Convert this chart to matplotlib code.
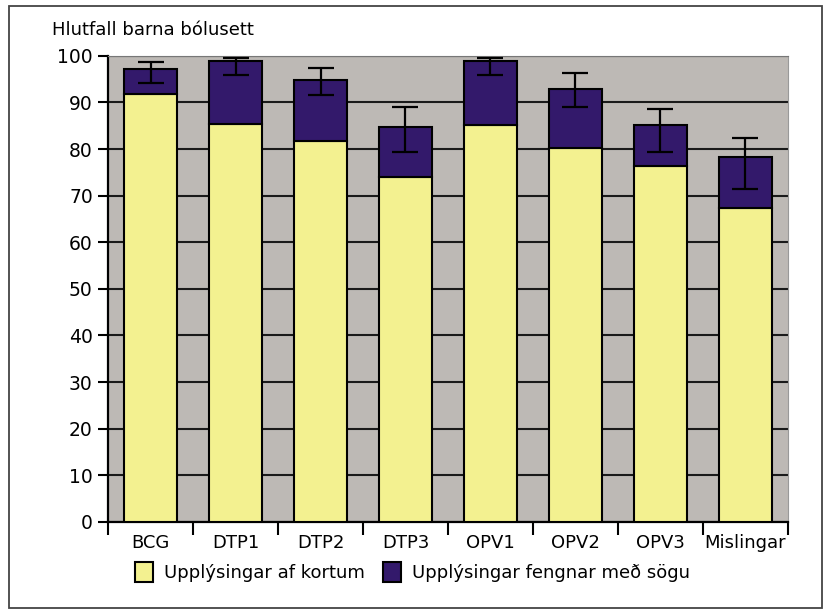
import matplotlib.pyplot as plt
import numpy as np
from matplotlib.patches import Rectangle

# data
categories = ["BCG", "DTP1", "DTP2", "DTP3", "OPV1", "OPV2", "OPV3", "Mislingar"]
kort = np.array([91.8, 85.4, 81.8, 74.1, 85.2, 80.2, 76.4, 67.4])     # Upplýsingar af kortum
total = np.array([97.2, 98.8, 94.9, 84.8, 98.8, 92.9, 85.1, 78.2])    # kort + saga
err_low = np.array([94.2, 95.8, 91.6, 79.4, 95.8, 89.0, 79.4, 71.4])
err_high = np.array([98.7, 99.6, 97.4, 89.0, 99.6, 96.4, 88.6, 82.4])
saga = total - kort

yellow = "#F3F190"
purple = "#33196B"

fig = plt.figure(figsize=(8.25, 6.14), dpi=100)
ax = fig.add_axes([0.131, 0.150, 0.824, 0.759])
ax.set_facecolor("#BDB9B5")

x = np.arange(len(categories))
ax.bar(x, kort, width=0.63, color=yellow, edgecolor="black", linewidth=1.5,
       label="Upplýsingar af kortum", zorder=3)
ax.bar(x, saga, bottom=kort, width=0.63, color=purple, edgecolor="black",
       linewidth=1.5, label="Upplýsingar fengnar með sögu", zorder=3)

mid = (err_low + err_high) / 2
ax.errorbar(x, mid, yerr=[mid - err_low, err_high - mid], fmt="none",
            ecolor="black", elinewidth=1.6, capsize=9.5, capthick=1.6, zorder=4)

ax.set_xlim(-0.5, len(categories) - 0.5)
ax.set_ylim(0, 100)
ax.set_yticks(np.arange(0, 101, 10))
ax.tick_params(axis="y", labelsize=13.5, length=7, width=1.5, pad=4)
ax.yaxis.grid(True, color="#1a1a1a", linewidth=1.5, zorder=1)
ax.set_axisbelow(True)

ax.set_xticks(x)
ax.set_xticklabels(categories, fontsize=13)
ax.tick_params(axis="x", length=0, pad=9)
ax.set_xticks(np.arange(-0.5, len(categories)), minor=True)
ax.tick_params(axis="x", which="minor", length=9, width=1.5)

for s in ["left", "bottom"]:
    ax.spines[s].set_linewidth(1.6)
ax.spines["top"].set_color("#777777")
ax.spines["right"].set_color("#999999")

fig.text(0.063, 0.951, "Hlutfall barna bólusett", fontsize=13, va="center")

fig.legend(loc="center", bbox_to_anchor=(0.5, 0.068), ncol=2, frameon=False,
           prop={"size": 13}, handlelength=1.0, handleheight=1.3,
           handletextpad=0.6, columnspacing=1.0)

fig.patches.append(Rectangle((0.011, 0.01), 0.985, 0.98, transform=fig.transFigure,
                             fill=False, edgecolor="#444444", linewidth=1.3))

fig.savefig("out.png", dpi=100)
